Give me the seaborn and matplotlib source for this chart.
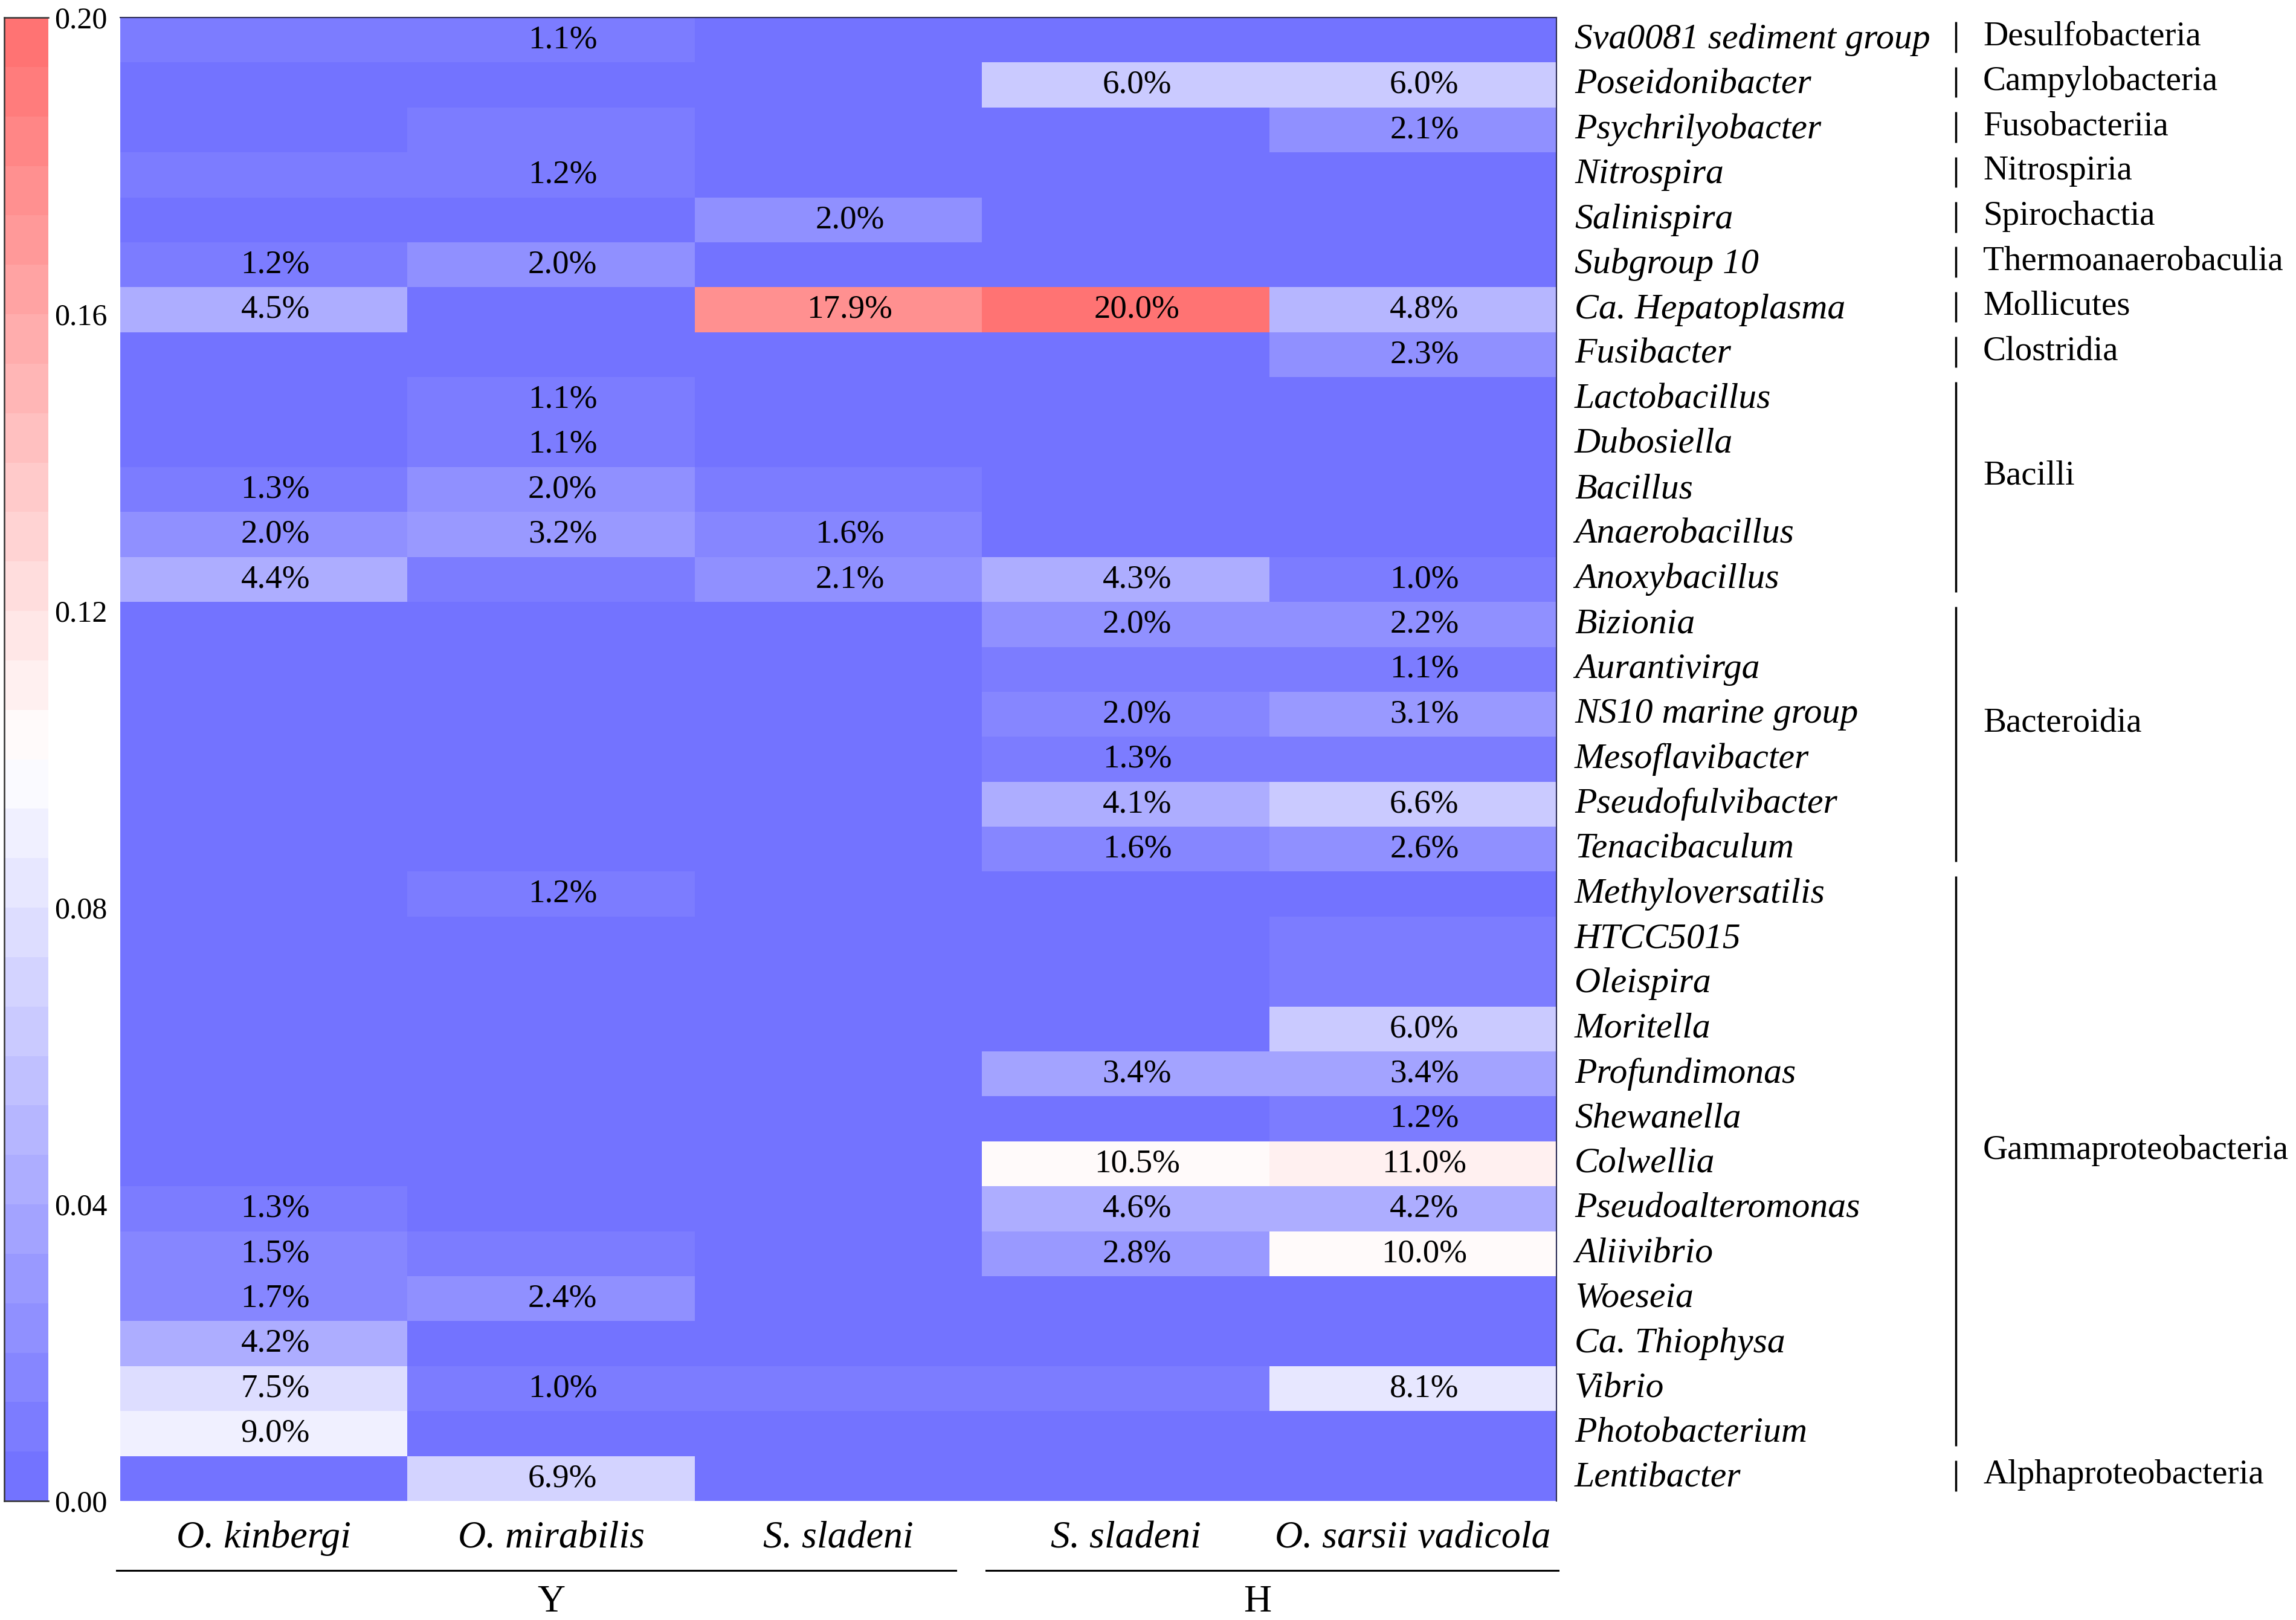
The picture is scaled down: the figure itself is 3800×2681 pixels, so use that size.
import numpy as np
import pandas as pd
import matplotlib
matplotlib.use("Agg")
import matplotlib.pyplot as plt
import matplotlib.transforms as mtransforms
from matplotlib.colors import LinearSegmentedColormap
import seaborn as sns

plt.rcParams['font.family'] = ['Liberation Serif', 'DejaVu Serif']

# ---------------- data ----------------
genera = ["Sva0081 sediment group", "Poseidonibacter", "Psychrilyobacter", "Nitrospira",
          "Salinispira", "Subgroup 10", "Ca. Hepatoplasma", "Fusibacter", "Lactobacillus",
          "Dubosiella", "Bacillus", "Anaerobacillus", "Anoxybacillus", "Bizionia",
          "Aurantivirga", "NS10 marine group", "Mesoflavibacter", "Pseudofulvibacter",
          "Tenacibaculum", "Methyloversatilis", "HTCC5015", "Oleispira", "Moritella",
          "Profundimonas", "Shewanella", "Colwellia", "Pseudoalteromonas", "Aliivibrio",
          "Woeseia", "Ca. Thiophysa", "Vibrio", "Photobacterium", "Lentibacter"]

species = ["O. kinbergi", "O. mirabilis", "S. sladeni", "S. sladeni", "O. sarsii vadicola"]

# relative abundance in percent, one list per sample column
o_kinbergi_Y = [0.8, 0.1, 0.2, 0.8, 0.2, 1.2, 4.5, 0.1, 0.3, 0.3, 1.3, 2.0, 4.4,
                0.1, 0.1, 0.1, 0.1, 0.1, 0.1, 0.2, 0.1, 0.1, 0.1, 0.1, 0.1, 0.1,
                1.3, 1.5, 1.7, 4.2, 7.5, 9.0, 0.2]
o_mirabilis_Y = [1.1, 0.2, 0.8, 1.2, 0.3, 2.0, 0.4, 0.2, 1.1, 1.1, 2.0, 3.2, 0.8,
                 0.2, 0.1, 0.1, 0.1, 0.1, 0.2, 1.2, 0.1, 0.1, 0.1, 0.1, 0.1, 0.1,
                 0.2, 0.8, 2.4, 0.3, 1.0, 0.3, 6.9]
s_sladeni_Y = [0.2, 0.1, 0.1, 0.2, 2.0, 0.3, 17.9, 0.1, 0.2, 0.2, 0.9, 1.6, 2.1,
               0.1, 0.1, 0.1, 0.1, 0.1, 0.1, 0.1, 0.1, 0.1, 0.1, 0.1, 0.1, 0.1,
               0.1, 0.1, 0.2, 0.1, 0.8, 0.2, 0.1]
s_sladeni_H = [0.1, 6.0, 0.3, 0.1, 0.1, 0.1, 20.0, 0.1, 0.1, 0.1, 0.2, 0.1, 4.3,
               2.0, 0.8, 1.96, 1.3, 4.1, 1.6, 0.1, 0.2, 0.2, 0.3, 3.4, 0.4, 10.5,
               4.6, 2.8, 0.1, 0.1, 0.8, 0.1, 0.1]
o_sarsii_H = [0.1, 6.0, 2.1, 0.1, 0.2, 0.1, 4.8, 2.3, 0.1, 0.1, 0.1, 0.1, 1.0,
              2.2, 1.1, 3.1, 0.8, 6.6, 2.6, 0.1, 0.8, 0.8, 6.0, 3.4, 1.2, 11.0,
              4.2, 10.0, 0.1, 0.1, 8.1, 0.1, 0.1]

# taxonomic classes: (name, first row, last row)
class_groups = [("Desulfobacteria", 0, 0), ("Campylobacteria", 1, 1), ("Fusobacteriia", 2, 2),
                ("Nitrospiria", 3, 3), ("Spirochactia", 4, 4), ("Thermoanaerobaculia", 5, 5),
                ("Mollicutes", 6, 6), ("Clostridia", 7, 7), ("Bacilli", 8, 12),
                ("Bacteroidia", 13, 18), ("Gammaproteobacteria", 19, 31),
                ("Alphaproteobacteria", 32, 32)]

# sampling sites: (label, first column, last column)
site_groups = [("Y", 0, 2), ("H", 3, 4)]

cbar_ticks = [0, 4, 8, 12, 16, 20]

# ---------------- build ----------------
df = pd.DataFrame({"c0": o_kinbergi_Y, "c1": o_mirabilis_Y, "c2": s_sladeni_Y,
                   "c3": s_sladeni_H, "c4": o_sarsii_H}, index=genera)
annot = df.map(lambda v: f"{v:.1f}%" if v >= 0.995 else "")

cmap = LinearSegmentedColormap.from_list(
    "bwr_soft", [(0.45, 0.45, 1.0), (1.0, 1.0, 1.0), (1.0, 0.45, 0.45)], N=30)

W, H = 3800, 2681
fig = plt.figure(figsize=(W / 100, H / 100), dpi=100)
x0, x1, y0, y1 = 199, 2576, 29, 2484
ax = fig.add_axes([x0 / W, 1 - y1 / H, (x1 - x0) / W, (y1 - y0) / H])
cax = fig.add_axes([7 / W, 1 - y1 / H, 73 / W, (y1 - y0) / H])

sns.heatmap(df, cmap=cmap, vmin=0, vmax=20, annot=annot.values, fmt="",
            annot_kws={"fontsize": 39.5, "color": "black"},
            cbar_ax=cax, xticklabels=False, yticklabels=False, ax=ax)
ax.set_xlabel("")
ax.set_ylabel("")
ax.tick_params(length=0)

# the reference places cell labels slightly right of the cell centre
for t in ax.texts:
    px, py = t.get_position()
    t.set_position((px + 0.04, py))

# heatmap border (top, right)
ax.plot([0, 1], [1, 1], transform=ax.transAxes, color="#2b2b55", lw=1.5, clip_on=False)
ax.plot([1, 1], [0, 1], transform=ax.transAxes, color="#2b2b55", lw=1.5, clip_on=False)

# colorbar styling
cb = ax.collections[0].colorbar
cb.outline.set_visible(False)
cb.set_ticks(cbar_ticks)
cb.set_ticklabels([f"{t / 100:.2f}" for t in cbar_ticks])
cax.tick_params(length=0, pad=7, labelsize=36)
for xs, ys in [([0, 0], [0, 1]), ([0, 1], [1, 1]), ([0, 1], [0, 0])]:
    cax.plot(xs, ys, transform=cax.transAxes, color="#333333", lw=1.8, clip_on=False)

# row labels (right side, italic)
tr_y = mtransforms.blended_transform_factory(ax.transAxes, ax.transData)
for i, g in enumerate(genera):
    ax.text((2606 - x0) / (x1 - x0), i + 0.5, g, transform=tr_y, ha="left", va="center",
            fontsize=43, fontstyle="italic")

# class brackets and labels
xl = (3237 - x0) / (x1 - x0)
xt = (3282 - x0) / (x1 - x0)
for name, a, b in class_groups:
    ax.plot([xl, xl], [a + 0.1, b + 1 - 0.22], transform=tr_y, color="black", lw=2.5,
            clip_on=False, solid_capstyle="butt")
    shift = 0.08 if a == b else 0.3
    ax.text(xt, (a + b + 1) / 2 - shift, name, transform=tr_y, ha="left", va="center",
            fontsize=41)

# column labels
tr_x = mtransforms.blended_transform_factory(ax.transData, ax.transAxes)
for j, s in enumerate(species):
    ax.text(j + 0.5, -(2546 - y1) / (y1 - y0), s, transform=tr_x, ha="center",
            va="center", fontsize=46, fontstyle="italic")

# site underlines and labels
yline = -(2599 - y1) / (y1 - y0)
ylab = -(2652 - y1) / (y1 - y0)
for k, (lab, a, b) in enumerate(site_groups):
    left = a - 0.012 if k == 0 else a + 0.014
    right = b + 1 - 0.09 if k == 0 else b + 1.006
    ax.plot([left, right], [yline, yline], transform=tr_x, color="black", lw=2.2,
            clip_on=False)
    cx = (a + b + 1) / 2 if k == 0 else (a + b + 1) / 2 - 0.04
    ax.text(cx, ylab, lab, transform=tr_x, ha="center", va="center", fontsize=46)

fig.savefig("out.png", dpi=100)
